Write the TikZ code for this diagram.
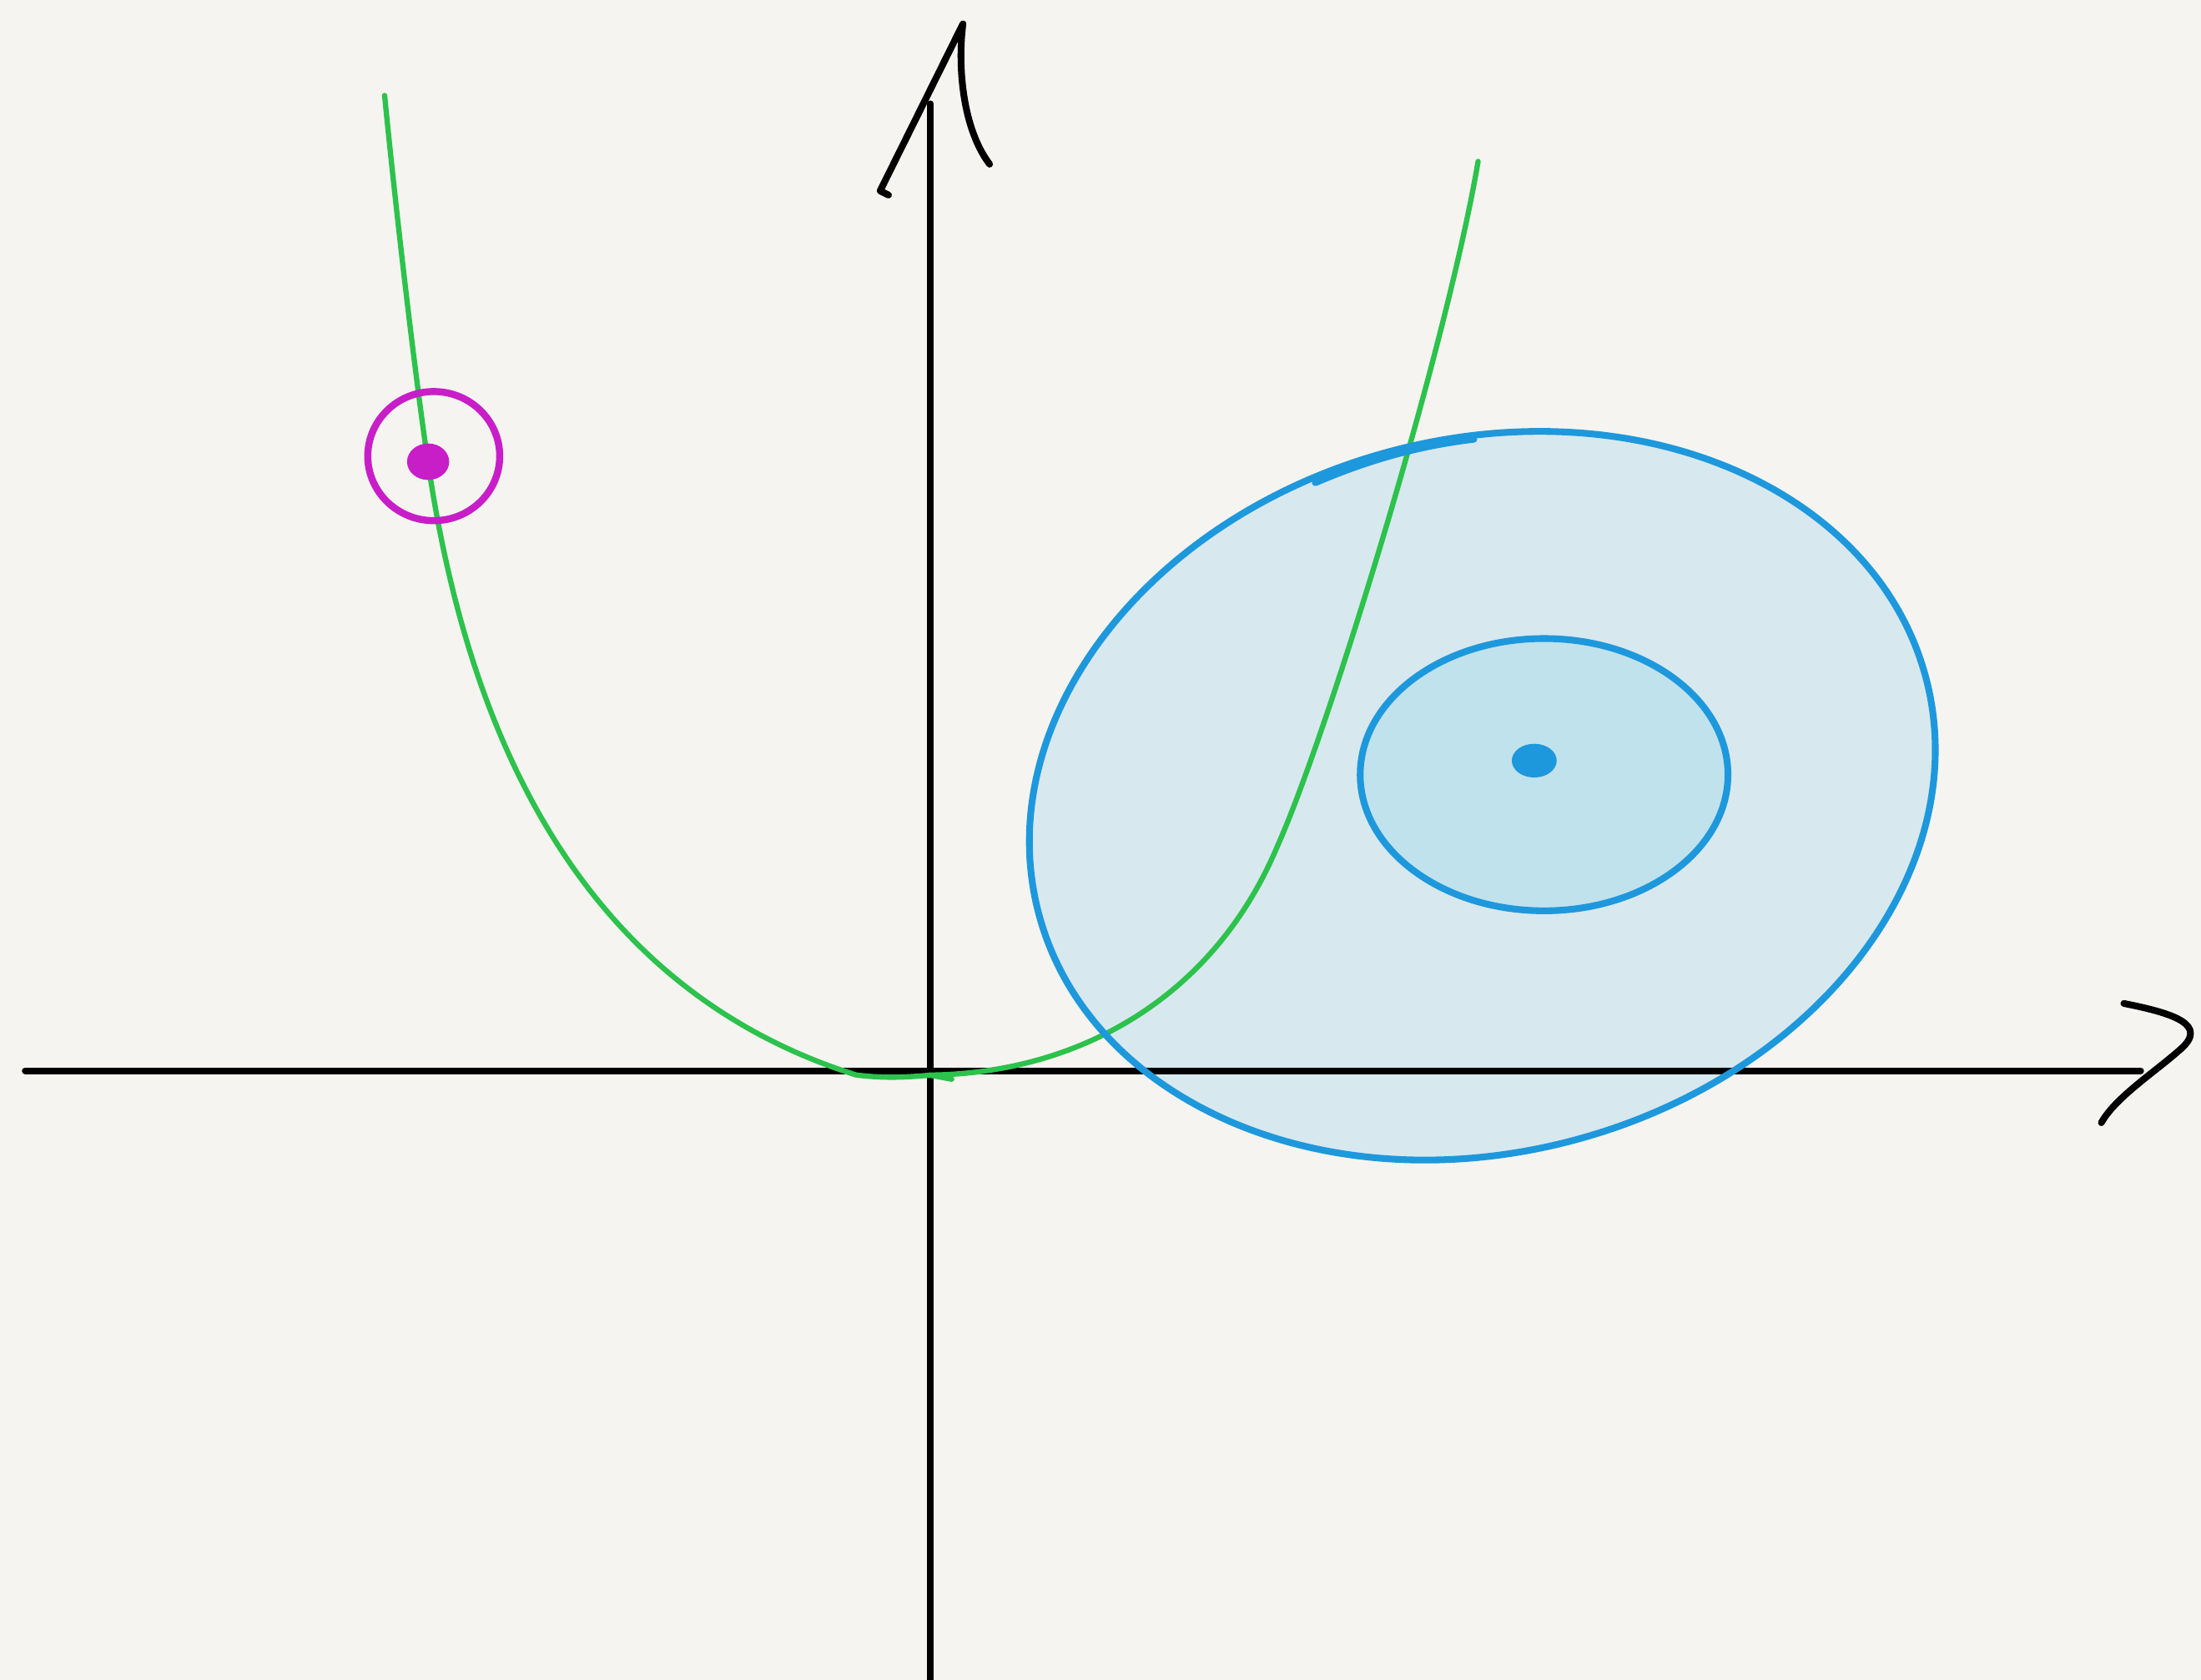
\documentclass[tikz,border=0pt]{standalone}
\usepackage{tikz}
\usetikzlibrary{positioning, calc}
\definecolor{paper}{RGB}{245, 244, 240}
\definecolor{curvegreen}{RGB}{44, 194, 76}
\definecolor{regionblue}{RGB}{30, 152, 220}
\definecolor{outerfill}{RGB}{216, 232, 239}
\definecolor{innerfill}{RGB}{192, 226, 237}
\definecolor{pointmag}{RGB}{200, 30, 200}

\begin{document}
\begin{tikzpicture}[
  x=0.016824cm, y=-0.016824cm,
  axisline/.style={draw=black, line width=2.3pt, line cap=round, line join=round},
  sketch/.style={draw=curvegreen, line width=1.8pt, line cap=round, line join=round},
  regionline/.style={draw=regionblue, line width=2.3pt},
  pointline/.style={draw=pointmag, line width=2.4pt}
]
  % sheet
  \fill[paper] (0,0) rectangle (1568,1197);
  \useasboundingbox (0,0) rectangle (1568,1197);

  \coordinate (xstart) at (18,763);
  \coordinate (xend) at (1525,763);
  \coordinate (ystart) at (663,1197);
  \coordinate (yend) at (663,74);
  \coordinate (xtip) at (1513,715);
  \coordinate (ytip) at (686,17);
  \coordinate (outerc) at (1056,567);
  \coordinate (innerc) at (1100,552);
  \coordinate (ctop) at (274,68);
  \coordinate (cend) at (1053,115);

  % regions
  \fill[outerfill, rotate around={15:(outerc)}] (outerc) ellipse [x radius=327, y radius=254];
  \fill[innerfill] (innerc) ellipse [x radius=131, y radius=97];

  % axes
  \draw[axisline] (xstart) -- (xend);
  \draw[axisline] (ystart) -- (yend);
  \draw[axisline] (xtip) .. controls (1548,722) and (1574,730) .. (1553,748)
    .. controls (1535,764) and (1507,782) .. (1497,800);
  \draw[axisline] (633,139) -- (627,136) -- (ytip)
    .. controls (682,48) and (686,92) .. (705,117);

  % curve
  \draw[sketch] (ctop) .. controls (282,150) and (296,270) .. (305,330)
    .. controls (330,500) and (400,700) .. (610,766)
    .. controls (635,769) and (650,767) .. (665,766)
    .. controls (770,764) and (865,710) .. (910,603)
    .. controls (945,525) and (1030,250) .. (cend);
  \draw[sketch] (662,766) -- (678,769);

  % region outlines
  \draw[regionline, rotate around={15:(outerc)}] (outerc) ellipse [x radius=327, y radius=254];
  \draw[regionline, line cap=round] (937,344) .. controls (972,329) and (1008,318) .. (1050,313);
  \draw[regionline] (innerc) ellipse [x radius=131, y radius=97];
  \fill[regionblue] (1093,542) ellipse [x radius=16, y radius=12];

  % point
  \draw[pointline] (309,325) ellipse [x radius=47, y radius=46];
  \fill[pointmag] (305,329) ellipse [x radius=15, y radius=13];
\end{tikzpicture}
\end{document}
